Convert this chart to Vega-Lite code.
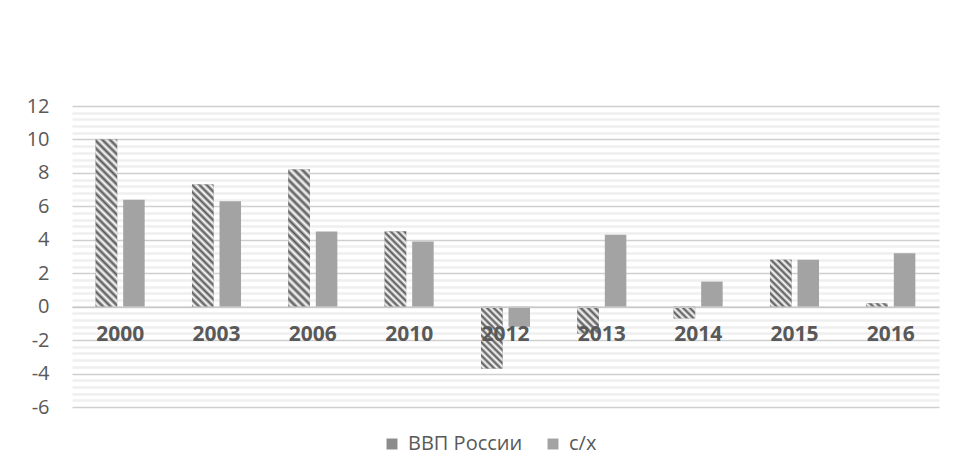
{
  "$schema": "https://vega.github.io/schema/vega-lite/v6.json",
  "width": 867,
  "height": 301,
  "autosize": {"type": "none"},
  "padding": {"left": 72, "top": 106, "right": 16, "bottom": 68},
  "background": "#ffffff",
  "config": {
    "font": "Open Sans",
    "view": {"stroke": null},
    "axis": {"labelFont": "Open Sans", "labelColor": "#595959"}
  },
  "data": {
    "values": [
      {"year": "2000", "series": "ВВП России", "value": 10.0},
      {"year": "2000", "series": "с/х", "value": 6.4},
      {"year": "2003", "series": "ВВП России", "value": 7.3},
      {"year": "2003", "series": "с/х", "value": 6.3},
      {"year": "2006", "series": "ВВП России", "value": 8.2},
      {"year": "2006", "series": "с/х", "value": 4.5},
      {"year": "2010", "series": "ВВП России", "value": 4.5},
      {"year": "2010", "series": "с/х", "value": 3.9},
      {"year": "2012", "series": "ВВП России", "value": -3.7},
      {"year": "2012", "series": "с/х", "value": -1.2},
      {"year": "2013", "series": "ВВП России", "value": -1.6},
      {"year": "2013", "series": "с/х", "value": 4.3},
      {"year": "2014", "series": "ВВП России", "value": -0.7},
      {"year": "2014", "series": "с/х", "value": 1.5},
      {"year": "2015", "series": "ВВП России", "value": 2.8},
      {"year": "2015", "series": "с/х", "value": 2.8},
      {"year": "2016", "series": "ВВП России", "value": 0.2},
      {"year": "2016", "series": "с/х", "value": 3.2}
    ]
  },
  "encoding": {
    "x": {
      "field": "year",
      "type": "nominal",
      "sort": null,
      "scale": {"paddingInner": 0, "paddingOuter": 0},
      "axis": {
        "title": null,
        "orient": "bottom",
        "offset": -100.33,
        "zindex": 1,
        "labelAngle": 0,
        "labelFontSize": 21,
        "labelFontWeight": "bold",
        "labelPadding": 17,
        "ticks": false,
        "domain": true,
        "domainColor": "#c8c8c8",
        "domainWidth": 1.5,
        "grid": false
      }
    },
    "xOffset": {
      "field": "series",
      "type": "nominal",
      "sort": ["ВВП России", "с/х"],
      "scale": {"domain": ["ВВП России", "с/х"], "paddingInner": 0.218, "paddingOuter": 0.86}
    },
    "y": {
      "field": "value",
      "type": "quantitative",
      "scale": {"domain": [-6, 12], "nice": false, "zero": false},
      "axis": {
        "title": null,
        "values": [-6, -5.6, -5.2, -4.8, -4.4, -4, -3.6, -3.2, -2.8, -2.4, -2, -1.6, -1.2, -0.8, -0.4, 0, 0.4, 0.8, 1.2, 1.6, 2, 2.4, 2.8, 3.2, 3.6, 4, 4.4, 4.8, 5.2, 5.6, 6, 6.4, 6.8, 7.2, 7.6, 8, 8.4, 8.8, 9.2, 9.6, 10, 10.4, 10.8, 11.2, 11.6, 12],
        "labelExpr": "datum.value % 2 === 0 ? toString(datum.value) : ''",
        "labelFontSize": 20,
        "labelPadding": 23,
        "ticks": false,
        "domain": false,
        "grid": true,
        "gridColor": {"condition": {"test": "datum.value % 2 === 0", "value": "#cfcfcf"}, "value": "#efefef"},
        "gridWidth": {"condition": {"test": "datum.value % 2 === 0", "value": 1.3}, "value": 2.6}
      }
    }
  },
  "layer": [
    {
      "mark": {"type": "bar"},
      "encoding": {
        "color": {
          "field": "series",
          "type": "nominal",
          "sort": ["ВВП России", "с/х"],
          "scale": {"domain": ["ВВП России", "с/х"], "range": ["#8c8c8c", "#a3a3a3"]},
          "legend": {
            "title": null,
            "orient": "none",
            "legendX": 310,
            "legendY": 328,
            "direction": "horizontal",
            "symbolType": "square",
            "symbolSize": 120,
            "symbolStrokeWidth": 0,
            "labelFontSize": 20,
            "labelColor": "#595959",
            "labelFont": "Open Sans",
            "columnPadding": 20,
            "labelOffset": 6
          }
        }
      }
    },
    {
      "transform": [{"filter": "datum.series === 'ВВП России'"}],
      "mark": {"type": "bar"},
      "encoding": {
        "fill": {
          "condition": [
            {"test": "datum.year === '2000'", "value": {"gradient": "linear", "x1": 0, "y1": 1, "x2": 0.14277, "y2": -0.1103, "stops": [
              {"offset": 0, "color": "#555"}, {"offset": 0.02, "color": "#fff"}, {"offset": 0.04, "color": "#555"}, {"offset": 0.06, "color": "#fff"}, {"offset": 0.08, "color": "#555"}, {"offset": 0.1, "color": "#fff"}, {"offset": 0.12, "color": "#555"}, {"offset": 0.14, "color": "#fff"}, {"offset": 0.16, "color": "#555"}, {"offset": 0.18, "color": "#fff"}, {"offset": 0.2, "color": "#555"}, {"offset": 0.22, "color": "#fff"}, {"offset": 0.24, "color": "#555"}, {"offset": 0.26, "color": "#fff"}, {"offset": 0.28, "color": "#555"}, {"offset": 0.3, "color": "#fff"}, {"offset": 0.32, "color": "#555"}, {"offset": 0.34, "color": "#fff"}, {"offset": 0.36, "color": "#555"}, {"offset": 0.38, "color": "#fff"}, {"offset": 0.4, "color": "#555"}, {"offset": 0.42, "color": "#fff"}, {"offset": 0.44, "color": "#555"}, {"offset": 0.46, "color": "#fff"}, {"offset": 0.48, "color": "#555"}, {"offset": 0.5, "color": "#fff"}, {"offset": 0.52, "color": "#555"}, {"offset": 0.54, "color": "#fff"}, {"offset": 0.56, "color": "#555"}, {"offset": 0.58, "color": "#fff"}, {"offset": 0.6, "color": "#555"}, {"offset": 0.62, "color": "#fff"}, {"offset": 0.64, "color": "#555"}, {"offset": 0.66, "color": "#fff"}, {"offset": 0.68, "color": "#555"}, {"offset": 0.7, "color": "#fff"}, {"offset": 0.72, "color": "#555"}, {"offset": 0.74, "color": "#fff"}, {"offset": 0.76, "color": "#555"}, {"offset": 0.78, "color": "#fff"}, {"offset": 0.8, "color": "#555"}, {"offset": 0.82, "color": "#fff"}, {"offset": 0.84, "color": "#555"}, {"offset": 0.86, "color": "#fff"}, {"offset": 0.88, "color": "#555"}, {"offset": 0.9, "color": "#fff"}, {"offset": 0.92, "color": "#555"}, {"offset": 0.94, "color": "#fff"}, {"offset": 0.96, "color": "#555"}, {"offset": 0.98, "color": "#fff"}, {"offset": 1, "color": "#555"}
            ]}},
            {"test": "datum.year === '2003'", "value": {"gradient": "linear", "x1": 0, "y1": 1, "x2": 0.20093, "y2": -0.1407, "stops": [
              {"offset": 0, "color": "#555"}, {"offset": 0.025, "color": "#fff"}, {"offset": 0.05, "color": "#555"}, {"offset": 0.075, "color": "#fff"}, {"offset": 0.1, "color": "#555"}, {"offset": 0.125, "color": "#fff"}, {"offset": 0.15, "color": "#555"}, {"offset": 0.175, "color": "#fff"}, {"offset": 0.2, "color": "#555"}, {"offset": 0.225, "color": "#fff"}, {"offset": 0.25, "color": "#555"}, {"offset": 0.275, "color": "#fff"}, {"offset": 0.3, "color": "#555"}, {"offset": 0.325, "color": "#fff"}, {"offset": 0.35, "color": "#555"}, {"offset": 0.375, "color": "#fff"}, {"offset": 0.4, "color": "#555"}, {"offset": 0.425, "color": "#fff"}, {"offset": 0.45, "color": "#555"}, {"offset": 0.475, "color": "#fff"}, {"offset": 0.5, "color": "#555"}, {"offset": 0.525, "color": "#fff"}, {"offset": 0.55, "color": "#555"}, {"offset": 0.575, "color": "#fff"}, {"offset": 0.6, "color": "#555"}, {"offset": 0.625, "color": "#fff"}, {"offset": 0.65, "color": "#555"}, {"offset": 0.675, "color": "#fff"}, {"offset": 0.7, "color": "#555"}, {"offset": 0.725, "color": "#fff"}, {"offset": 0.75, "color": "#555"}, {"offset": 0.775, "color": "#fff"}, {"offset": 0.8, "color": "#555"}, {"offset": 0.825, "color": "#fff"}, {"offset": 0.85, "color": "#555"}, {"offset": 0.875, "color": "#fff"}, {"offset": 0.9, "color": "#555"}, {"offset": 0.925, "color": "#fff"}, {"offset": 0.95, "color": "#555"}, {"offset": 0.975, "color": "#fff"}, {"offset": 1, "color": "#555"}
            ]}},
            {"test": "datum.year === '2006'", "value": {"gradient": "linear", "x1": 0, "y1": 1, "x2": 0.17706, "y2": -0.1291, "stops": [
              {"offset": 0, "color": "#555"}, {"offset": 0.025, "color": "#fff"}, {"offset": 0.05, "color": "#555"}, {"offset": 0.075, "color": "#fff"}, {"offset": 0.1, "color": "#555"}, {"offset": 0.125, "color": "#fff"}, {"offset": 0.15, "color": "#555"}, {"offset": 0.175, "color": "#fff"}, {"offset": 0.2, "color": "#555"}, {"offset": 0.225, "color": "#fff"}, {"offset": 0.25, "color": "#555"}, {"offset": 0.275, "color": "#fff"}, {"offset": 0.3, "color": "#555"}, {"offset": 0.325, "color": "#fff"}, {"offset": 0.35, "color": "#555"}, {"offset": 0.375, "color": "#fff"}, {"offset": 0.4, "color": "#555"}, {"offset": 0.425, "color": "#fff"}, {"offset": 0.45, "color": "#555"}, {"offset": 0.475, "color": "#fff"}, {"offset": 0.5, "color": "#555"}, {"offset": 0.525, "color": "#fff"}, {"offset": 0.55, "color": "#555"}, {"offset": 0.575, "color": "#fff"}, {"offset": 0.6, "color": "#555"}, {"offset": 0.625, "color": "#fff"}, {"offset": 0.65, "color": "#555"}, {"offset": 0.675, "color": "#fff"}, {"offset": 0.7, "color": "#555"}, {"offset": 0.725, "color": "#fff"}, {"offset": 0.75, "color": "#555"}, {"offset": 0.775, "color": "#fff"}, {"offset": 0.8, "color": "#555"}, {"offset": 0.825, "color": "#fff"}, {"offset": 0.85, "color": "#555"}, {"offset": 0.875, "color": "#fff"}, {"offset": 0.9, "color": "#555"}, {"offset": 0.925, "color": "#fff"}, {"offset": 0.95, "color": "#555"}, {"offset": 0.975, "color": "#fff"}, {"offset": 1, "color": "#555"}
            ]}},
            {"test": "datum.year === '2010'", "value": {"gradient": "linear", "x1": 0, "y1": 1, "x2": 0.33967, "y2": -0.1887, "stops": [
              {"offset": 0, "color": "#555"}, {"offset": 0.035, "color": "#fff"}, {"offset": 0.07, "color": "#555"}, {"offset": 0.105, "color": "#fff"}, {"offset": 0.14, "color": "#555"}, {"offset": 0.175, "color": "#fff"}, {"offset": 0.21, "color": "#555"}, {"offset": 0.245, "color": "#fff"}, {"offset": 0.28, "color": "#555"}, {"offset": 0.315, "color": "#fff"}, {"offset": 0.35, "color": "#555"}, {"offset": 0.385, "color": "#fff"}, {"offset": 0.42, "color": "#555"}, {"offset": 0.455, "color": "#fff"}, {"offset": 0.49, "color": "#555"}, {"offset": 0.525, "color": "#fff"}, {"offset": 0.56, "color": "#555"}, {"offset": 0.595, "color": "#fff"}, {"offset": 0.63, "color": "#555"}, {"offset": 0.665, "color": "#fff"}, {"offset": 0.7, "color": "#555"}, {"offset": 0.735, "color": "#fff"}, {"offset": 0.77, "color": "#555"}, {"offset": 0.805, "color": "#fff"}, {"offset": 0.84, "color": "#555"}, {"offset": 0.875, "color": "#fff"}, {"offset": 0.91, "color": "#555"}, {"offset": 0.945, "color": "#fff"}, {"offset": 0.98, "color": "#555"}
            ]}},
            {"test": "datum.year === '2012'", "value": {"gradient": "linear", "x1": 0, "y1": 1, "x2": 0.41787, "y2": -0.2023, "stops": [
              {"offset": 0, "color": "#555"}, {"offset": 0.04, "color": "#fff"}, {"offset": 0.08, "color": "#555"}, {"offset": 0.12, "color": "#fff"}, {"offset": 0.16, "color": "#555"}, {"offset": 0.2, "color": "#fff"}, {"offset": 0.24, "color": "#555"}, {"offset": 0.28, "color": "#fff"}, {"offset": 0.32, "color": "#555"}, {"offset": 0.36, "color": "#fff"}, {"offset": 0.4, "color": "#555"}, {"offset": 0.44, "color": "#fff"}, {"offset": 0.48, "color": "#555"}, {"offset": 0.52, "color": "#fff"}, {"offset": 0.56, "color": "#555"}, {"offset": 0.6, "color": "#fff"}, {"offset": 0.64, "color": "#555"}, {"offset": 0.68, "color": "#fff"}, {"offset": 0.72, "color": "#555"}, {"offset": 0.76, "color": "#fff"}, {"offset": 0.8, "color": "#555"}, {"offset": 0.84, "color": "#fff"}, {"offset": 0.88, "color": "#555"}, {"offset": 0.92, "color": "#fff"}, {"offset": 0.96, "color": "#555"}, {"offset": 1, "color": "#fff"}
            ]}},
            {"test": "datum.year === '2013'", "value": {"gradient": "linear", "x1": 0, "y1": 1, "x2": 0.88078, "y2": -0.0959, "stops": [
              {"offset": 0, "color": "#555"}, {"offset": 0.075, "color": "#fff"}, {"offset": 0.15, "color": "#555"}, {"offset": 0.225, "color": "#fff"}, {"offset": 0.3, "color": "#555"}, {"offset": 0.375, "color": "#fff"}, {"offset": 0.45, "color": "#555"}, {"offset": 0.525, "color": "#fff"}, {"offset": 0.6, "color": "#555"}, {"offset": 0.675, "color": "#fff"}, {"offset": 0.75, "color": "#555"}, {"offset": 0.825, "color": "#fff"}, {"offset": 0.9, "color": "#555"}, {"offset": 0.975, "color": "#fff"}
            ]}},
            {"test": "datum.year === '2014'", "value": {"gradient": "linear", "x1": 0, "y1": 1, "x2": 1.19135, "y2": 0.3517, "stops": [
              {"offset": 0, "color": "#555"}, {"offset": 0.1, "color": "#fff"}, {"offset": 0.2, "color": "#555"}, {"offset": 0.3, "color": "#fff"}, {"offset": 0.4, "color": "#555"}, {"offset": 0.5, "color": "#fff"}, {"offset": 0.6, "color": "#555"}, {"offset": 0.7, "color": "#fff"}, {"offset": 0.8, "color": "#555"}, {"offset": 0.9, "color": "#fff"}, {"offset": 1, "color": "#555"}
            ]}},
            {"test": "datum.year === '2015'", "value": {"gradient": "linear", "x1": 0, "y1": 1, "x2": 0.55338, "y2": -0.2051, "stops": [
              {"offset": 0, "color": "#555"}, {"offset": 0.05, "color": "#fff"}, {"offset": 0.1, "color": "#555"}, {"offset": 0.15, "color": "#fff"}, {"offset": 0.2, "color": "#555"}, {"offset": 0.25, "color": "#fff"}, {"offset": 0.3, "color": "#555"}, {"offset": 0.35, "color": "#fff"}, {"offset": 0.4, "color": "#555"}, {"offset": 0.45, "color": "#fff"}, {"offset": 0.5, "color": "#555"}, {"offset": 0.55, "color": "#fff"}, {"offset": 0.6, "color": "#555"}, {"offset": 0.65, "color": "#fff"}, {"offset": 0.7, "color": "#555"}, {"offset": 0.75, "color": "#fff"}, {"offset": 0.8, "color": "#555"}, {"offset": 0.85, "color": "#fff"}, {"offset": 0.9, "color": "#555"}, {"offset": 0.95, "color": "#fff"}, {"offset": 1, "color": "#555"}
            ]}},
            {"test": "datum.year === '2016'", "value": {"gradient": "linear", "x1": 0, "y1": 1, "x2": 1.1282, "y2": 0.8245, "stops": [
              {"offset": 0, "color": "#555"}, {"offset": 0.14, "color": "#fff"}, {"offset": 0.28, "color": "#555"}, {"offset": 0.42, "color": "#fff"}, {"offset": 0.56, "color": "#555"}, {"offset": 0.7, "color": "#fff"}, {"offset": 0.84, "color": "#555"}, {"offset": 0.98, "color": "#fff"}
            ]}}
          ],
          "value": "#8c8c8c"
        }
      }
    }
  ]
}
